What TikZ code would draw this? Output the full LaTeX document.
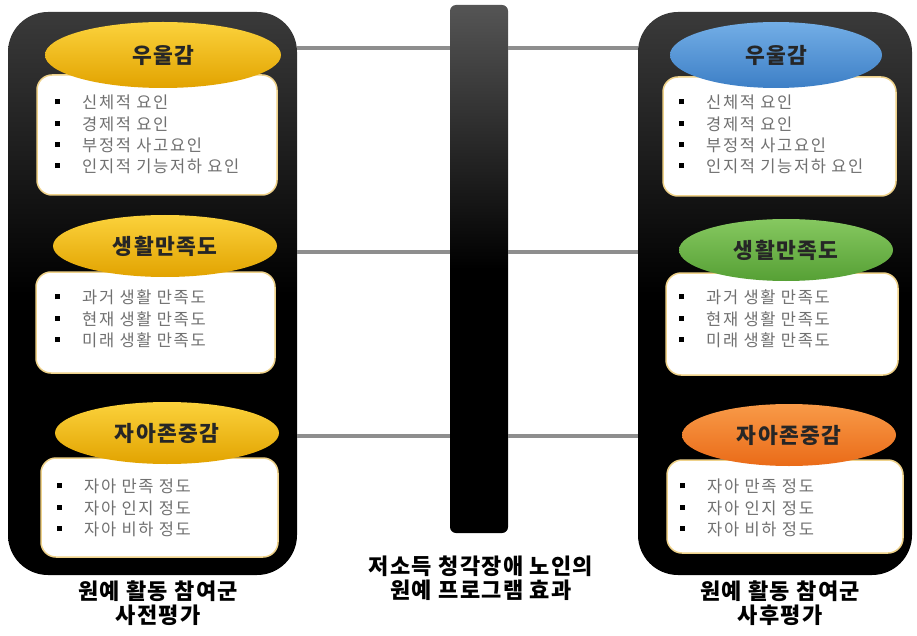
\documentclass[tikz,border=0pt]{standalone}
\usepackage{fontspec}
\newfontfamily\kri{Noto Sans CJK KR}[LetterSpace=10]
\newfontfamily\krt{Noto Sans CJK KR}[LetterSpace=6]
\usetikzlibrary{shapes.geometric}
\definecolor{pgray}{HTML}{3A3A3A}
\definecolor{bgray}{HTML}{555555}
\definecolor{linkgray}{HTML}{8E8E8E}
\definecolor{itemgray}{HTML}{707070}
\definecolor{boxedge}{HTML}{EFD28A}
\definecolor{goldT}{HTML}{FBD23C}
\definecolor{goldB}{HTML}{E2A300}
\definecolor{blueT}{HTML}{73AEE6}
\definecolor{blueB}{HTML}{3D7FC6}
\definecolor{greenT}{HTML}{86C860}
\definecolor{greenB}{HTML}{56A035}
\definecolor{orangeT}{HTML}{F89A48}
\definecolor{orangeB}{HTML}{EA6B18}
\newcommand{\itm}[1]{\makebox[27pt][l]{\textcolor{black}{\rule[4.5pt]{5pt}{5pt}}}#1}
\tikzset{
  panel/.style={rounded corners=40pt, top color=pgray, bottom color=black, middle color=black, draw=none, inner sep=0pt},
  cbar/.style={rounded corners=6pt, top color=bgray, bottom color=black, middle color=black, draw=none, inner sep=0pt},
  link/.style={draw=linkgray, line width=4pt},
  ttl/.style={ellipse, inner sep=0pt, draw=none, font=\krt\bfseries\fontsize{21.5}{24}\selectfont, text=black!85},
  gold/.style={top color=goldT, bottom color=goldB},
  blue/.style={top color=blueT, bottom color=blueB},
  green/.style={top color=greenT, bottom color=greenB},
  orange/.style={top color=orangeT, bottom color=orangeB},
  wbox/.style={fill=white, draw=boxedge, line width=1.5pt, rounded corners=15pt},
  items/.style={anchor=north west, align=left, inner sep=0pt, font=\kri\fontsize{16.5}{21.3}\selectfont, text=itemgray},
  lab/.style={align=center, inner sep=0pt, font=\krt\bfseries\fontsize{22}{24}\selectfont, text=black},
}
\begin{document}
\begin{tikzpicture}[x=1pt,y=-1pt]
\useasboundingbox (0,0) rectangle (917,636);
% panels
\node[panel, minimum width=289pt, minimum height=563pt] (LP) at (152.5,293.5) {};
\node[panel, minimum width=274pt, minimum height=563pt] (RP) at (775,293.5) {};
\node[cbar, minimum width=58pt, minimum height=528pt] (CB) at (479,269) {};
% links
\coordinate (y1) at (0,48);
\coordinate (y2) at (0,252);
\coordinate (y3) at (0,436);
\foreach \k in {1,2,3}{
  \draw[link] (LP.east |- y\k) -- (CB.west |- y\k);
  \draw[link] (CB.east |- y\k) -- (RP.west |- y\k);
}
% left column
\draw[wbox] (37,75) rectangle (277,195);
\node[ttl, gold, minimum width=236pt, minimum height=66pt] (LE1) at (163,55) {우울감};
\node[items] (LT1) at (55,95) {\itm{신체적 요인}\\\itm{경제적 요인}\\\itm{부정적 사고요인}\\\itm{인지적 기능저하 요인}};
\draw[wbox] (36,272) rectangle (275,373);
\node[ttl, gold, minimum width=224pt, minimum height=62pt] (LE2) at (165,246) {생활만족도};
\node[items] (LT2) at (55,290) {\itm{과거 생활 만족도}\\\itm{현재 생활 만족도}\\\itm{미래 생활 만족도}};
\draw[wbox] (41,458) rectangle (278,557);
\node[ttl, gold, minimum width=224pt, minimum height=62pt] (LE3) at (167,433) {자아존중감};
\node[items] (LT3) at (57,479) {\itm{자아 만족 정도}\\\itm{자아 인지 정도}\\\itm{자아 비하 정도}};
% right column
\draw[wbox] (663,77) rectangle (896,196);
\node[ttl, blue, minimum width=212pt, minimum height=66pt] (RE1) at (776,55) {우울감};
\node[items] (RT1) at (679,95) {\itm{신체적 요인}\\\itm{경제적 요인}\\\itm{부정적 사고요인}\\\itm{인지적 기능저하 요인}};
\draw[wbox] (666,273) rectangle (898,375);
\node[ttl, green, minimum width=214pt, minimum height=62pt] (RE2) at (786,250) {생활만족도};
\node[items] (RT2) at (679,290) {\itm{과거 생활 만족도}\\\itm{현재 생활 만족도}\\\itm{미래 생활 만족도}};
\draw[wbox] (667,460) rectangle (903,553);
\node[ttl, orange, minimum width=214pt, minimum height=62pt] (RE3) at (789,435) {자아존중감};
\node[items] (RT3) at (680,479) {\itm{자아 만족 정도}\\\itm{자아 인지 정도}\\\itm{자아 비하 정도}};
% labels
\node[lab] (LL) at (158,603) {원예 활동 참여군\\사전평가};
\node[lab] (CL) at (481,578) {저소득 청각장애 노인의\\원예 프로그램 효과};
\node[lab] (RL) at (780,603) {원예 활동 참여군\\사후평가};
\end{tikzpicture}
\end{document}
